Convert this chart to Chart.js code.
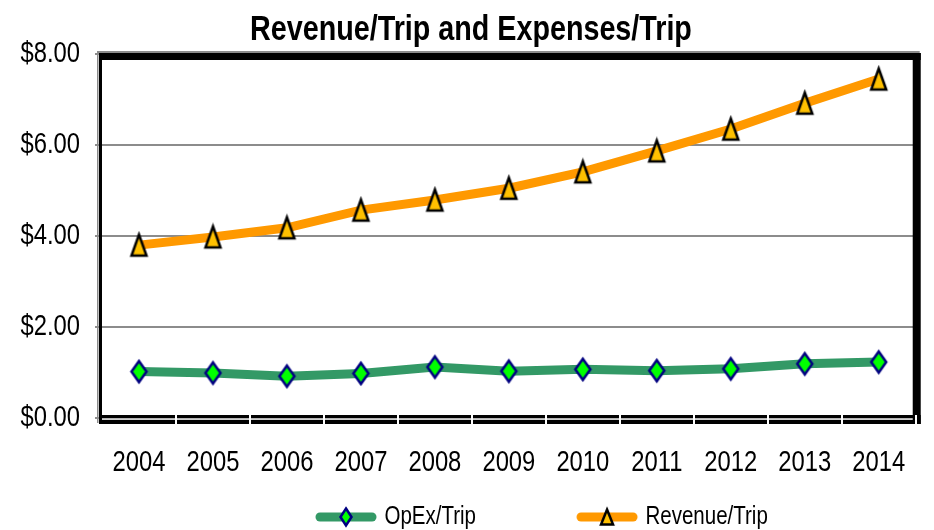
<!DOCTYPE html>
<html>
<head>
<meta charset="utf-8">
<script src="https://cdn.jsdelivr.net/npm/chart.js@4.4.1/dist/chart.umd.min.js"></script>
<style>
  html, body { margin: 0; padding: 0; background: #fff; }
</style>
</head>
<body>
<canvas id="trip-chart" width="934" height="530"></canvas>
<script>
const years = ['2004', '2005', '2006', '2007', '2008', '2009', '2010', '2011', '2012', '2013', '2014'];
const opexPerTrip = [1.02, 0.99, 0.92, 0.98, 1.12, 1.03, 1.07, 1.04, 1.08, 1.19, 1.23];
const revenuePerTrip = [3.80, 3.98, 4.18, 4.57, 4.79, 5.05, 5.41, 5.87, 6.35, 6.92, 7.45];
const yTickValues = [0, 2, 4, 6, 8];

const FONT = "'Liberation Sans', Arial, sans-serif";
const NARROW = 0.82; // no Arial Narrow here, so squeeze the text sideways

const canvas = document.getElementById('trip-chart');
const ctx2d = canvas.getContext('2d');
const origFill = ctx2d.fillText.bind(ctx2d);
const origMeasure = ctx2d.measureText.bind(ctx2d);
ctx2d.fillText = function (text, x, y, maxWidth) {
  this.save();
  this.translate(x, y);
  this.scale(NARROW, 1);
  if (maxWidth === undefined) origFill(text, 0, 0);
  else origFill(text, 0, 0, maxWidth / NARROW);
  this.restore();
};
ctx2d.measureText = function (text) {
  const m = origMeasure(text);
  return {
    width: m.width * NARROW,
    actualBoundingBoxAscent: m.actualBoundingBoxAscent,
    actualBoundingBoxDescent: m.actualBoundingBoxDescent,
    actualBoundingBoxLeft: m.actualBoundingBoxLeft * NARROW,
    actualBoundingBoxRight: m.actualBoundingBoxRight * NARROW
  };
};

// marker images (tall diamond / tall triangle like the original)
function diamond(ctx, cx, cy, w, h) {
  ctx.beginPath();
  ctx.moveTo(cx, cy - h / 2);
  ctx.lineTo(cx + w / 2, cy);
  ctx.lineTo(cx, cy + h / 2);
  ctx.lineTo(cx - w / 2, cy);
  ctx.closePath();
  ctx.fillStyle = '#00ff00';
  ctx.fill();
  ctx.lineWidth = 2.5;
  ctx.strokeStyle = '#000080';
  ctx.stroke();
}

function triangle(ctx, cx, cy, w, h) {
  ctx.beginPath();
  ctx.moveTo(cx, cy - h / 2);
  ctx.lineTo(cx + w / 2, cy + h / 2);
  ctx.lineTo(cx - w / 2, cy + h / 2);
  ctx.closePath();
  ctx.fillStyle = '#ffc000';
  ctx.fill();
  ctx.lineWidth = 2.5;
  ctx.strokeStyle = '#000';
  ctx.stroke();
}

function markerCanvas(drawFn, w, h) {
  const c = document.createElement('canvas');
  c.width = w + 6;
  c.height = h + 8;
  drawFn(c.getContext('2d'), c.width / 2, c.height / 2, w, h);
  return c;
}

function legendIcon(color, drawFn, w, h) {
  const c = document.createElement('canvas');
  c.width = 64;
  c.height = 24;
  const ctx = c.getContext('2d');
  ctx.strokeStyle = color;
  ctx.lineWidth = 9;
  ctx.lineCap = 'round';
  ctx.beginPath();
  ctx.moveTo(6, 12);
  ctx.lineTo(58, 12);
  ctx.stroke();
  drawFn(ctx, 32, 12, w, h);
  return c;
}

const diamondImg = markerCanvas(diamond, 15, 21);
const triangleImg = markerCanvas(triangle, 15, 21);
const legendIcons = [
  legendIcon('#339966', diamond, 11, 17),
  legendIcon('#ff9900', triangle, 12, 15)
];

// thick black frame round the plot area
const framePlugin = {
  id: 'frame',
  afterDraw(chart) {
    const { ctx, chartArea: a } = chart;
    const step = (a.right - a.left) / years.length;
    ctx.save();
    ctx.fillStyle = '#8c8c8c';
    ctx.fillRect(a.left - 5, a.top - 3, a.right - a.left + 9, 2);
    ctx.fillRect(a.left - 5, a.top - 2, 1.5, a.bottom - a.top + 7);
    ctx.fillStyle = '#000';
    ctx.fillRect(a.left - 3, a.top - 1, a.right - a.left + 8, 7);
    ctx.fillRect(a.right - 3, a.top - 1, 8, a.bottom - a.top + 7);
    ctx.fillRect(a.left - 3, a.bottom - 3, a.right - a.left + 8, 9);
    ctx.fillRect(a.left - 3, a.top - 1, 3, a.bottom - a.top + 7);
    ctx.fillStyle = '#fff';
    ctx.fillRect(a.left, a.bottom + 0.3, a.right - a.left - 3, 1.5);
    for (let i = 1; i <= years.length; i++) {
      ctx.fillRect(Math.round(a.left + i * step) - 1, a.bottom - 3, 2, 9);
    }
    ctx.restore();
  }
};

// put the legend and title where the original has them
const placePlugin = {
  id: 'place',
  afterLayout(chart) {
    const lg = chart.legend;
    const pad = lg.options.labels.padding;
    lg.left = 320 - pad;
    lg.right = 934;
    lg.top = 517 - pad - 12.5;
    chart.titleBlock.left += 8;
    chart.titleBlock.right += 8;
  }
};

new Chart(canvas, {
  type: 'line',
  data: {
    labels: years,
    datasets: [
      {
        label: 'OpEx/Trip',
        data: opexPerTrip,
        borderColor: '#339966',
        backgroundColor: '#339966',
        borderWidth: 9,
        pointStyle: diamondImg,
        tension: 0
      },
      {
        label: 'Revenue/Trip',
        data: revenuePerTrip,
        borderColor: '#ff9900',
        backgroundColor: '#ff9900',
        borderWidth: 9,
        pointStyle: triangleImg,
        tension: 0
      }
    ]
  },
  options: {
    responsive: false,
    animation: false,
    layout: { padding: { left: 10, right: 18, top: 0, bottom: 0 } },
    plugins: {
      title: {
        display: true,
        text: 'Revenue/Trip and Expenses/Trip',
        color: '#000',
        font: { family: FONT, size: 35, weight: 'bold' },
        padding: { top: 9, bottom: 3 }
      },
      legend: {
        position: 'bottom',
        align: 'start',
        maxHeight: 55,
        labels: {
          usePointStyle: true,
          pointStyleWidth: 52,
          padding: 105,
          color: '#000',
          font: { family: FONT, size: 25 },
          generateLabels(chart) {
            const items = Chart.defaults.plugins.legend.labels.generateLabels(chart);
            items.forEach((it, i) => { it.pointStyle = legendIcons[i]; });
            return items;
          }
        }
      },
      tooltip: { enabled: false }
    },
    scales: {
      x: {
        offset: true,
        grid: { display: false, drawTicks: false },
        border: { display: false },
        ticks: { color: '#000', padding: 28, font: { family: FONT, size: 29 } },
        afterFit(scale) { scale.height = 57; }
      },
      y: {
        min: 0,
        max: 8,
        afterBuildTicks(scale) { scale.ticks = yTickValues.map(v => ({ value: v })); },
        grid: { color: '#8c8c8c', lineWidth: 2, tickLength: 7 },
        border: { display: false },
        ticks: {
          color: '#000',
          padding: 15,
          font: { family: FONT, size: 29 },
          callback: v => '$' + v.toFixed(2)
        },
        afterFit(scale) { scale.width = 92; }
      }
    }
  },
  plugins: [framePlugin, placePlugin]
});
</script>
</body>
</html>
